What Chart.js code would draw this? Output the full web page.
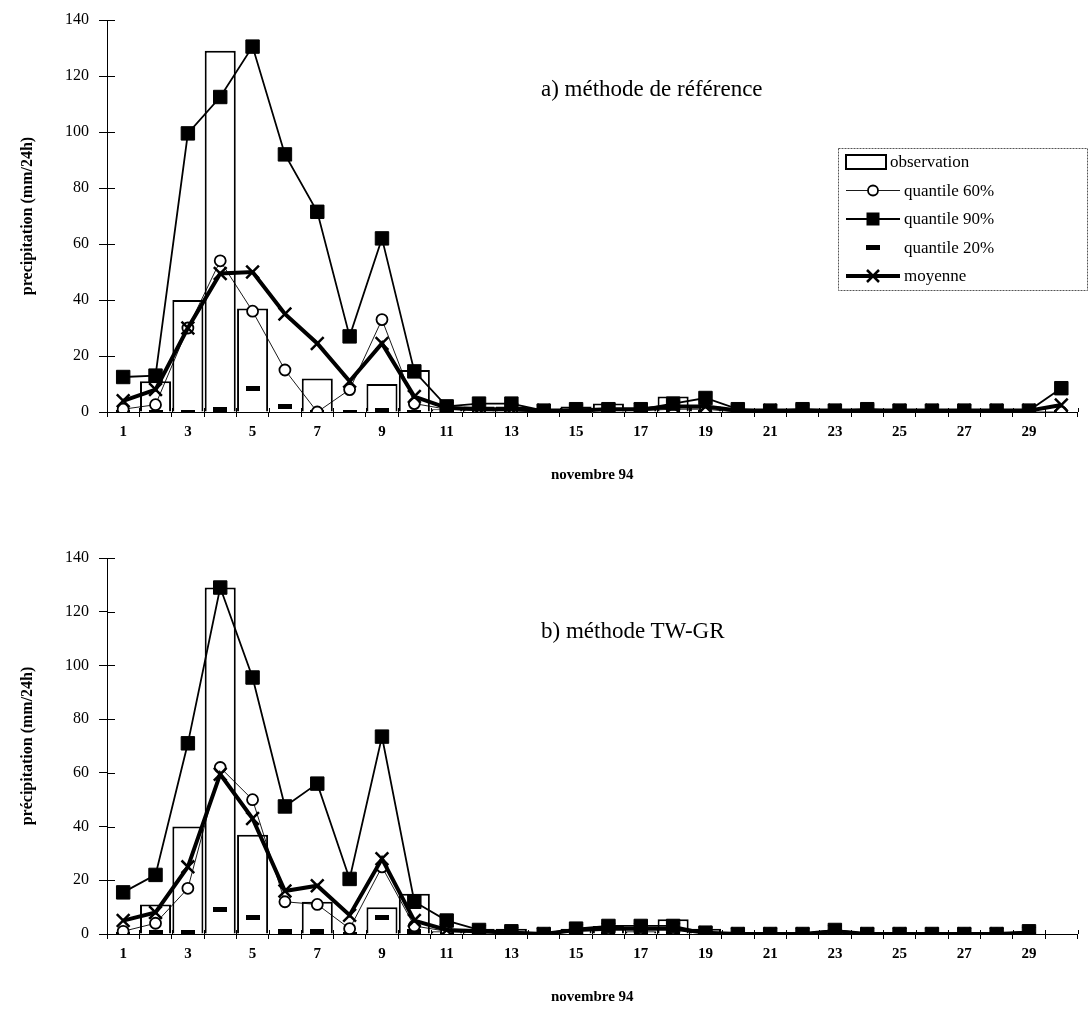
<!DOCTYPE html>
<html><head><meta charset="utf-8">
<script src="https://cdn.jsdelivr.net/npm/chart.js@4.4.1/dist/chart.umd.min.js"></script>
<style>
html,body{margin:0;padding:0;background:#fff;}
#wrap{position:relative;width:1089px;height:1018px;overflow:hidden;background:#fff;}
canvas{position:absolute;left:0;}
.sub{position:absolute;font-family:'Liberation Serif','Times New Roman',serif;font-size:23px;color:#000;white-space:nowrap;}
</style></head><body>
<div id="wrap">
<canvas id="c1" width="1089" height="490" style="top:0px"></canvas>
<canvas id="c2" width="1089" height="474" style="top:538px"></canvas>
<div class="sub" style="left:541px;top:76px">a) méthode de référence</div>
<div class="sub" style="left:541px;top:618px">b) méthode TW-GR</div>
</div>
<script>
const days = ['1','2','3','4','5','6','7','8','9','10','11','12','13','14','15','16','17','18','19','20','21','22','23','24','25','26','27','28','29','30'];
const yTicks = [0,20,40,60,80,100,120,140];

const observation = [0,11,40,129,37,0,12,0,10,15,1,2,2,0,2,3,1,5.5,2,0,0,0,0,0,0,0,0,0,0,0];

const q60A = [1,2.6,30,54,36,15,0,8,33,3,1,0.5,0.5,0,0.5,0.5,0.5,1,1,0,0,0,0,0,0,0,0,0,0,0];
const q90A = [12.5,13,99.5,112.5,130.5,92,71.5,27,62,14.5,2,3,3,0.5,1,1,1,3,5,1,0.5,1,0.5,1,0.5,0.5,0.5,0.5,0.5,8.5];
const q20A = [0,0,0,1,8.5,2,0,0,0.5,0,0,0,0,0,0,0,0,0,0,0,0,0,0,0,0,0,0,0,0,0];
const moyA = [4,8,30,49.5,50,35,24.5,11,24.5,5.5,1.5,1,1,0.5,0.5,1,1,2,2,0.5,0.5,0.5,0.5,0.5,0.5,0.5,0.5,0.5,0.5,2.5];

const q60B = [1,4,17,62,50,12,11,2,25,3,1,0.5,0.5,0,1.5,2,2,2,0.5,0,0,0,1,0,0,0,0,0,0.5,null];
const q90B = [15.5,22,71,129,95.5,47.5,56,20.5,73.5,12,5,1.5,1,0,2,3,3,3,0.5,0,0,0,1.5,0,0,0,0,0,1,null];
const q20B = [0,0.5,0.5,9,6,1,1,0,6,1,0,0,0,0,0,0,0,0,0,0,0,0,0,0,0,0,0,0,0,null];
const moyB = [5,8,25,59.5,43,16,18,7,28,5,1.5,1,0.5,0,1.5,2,2,2,0.5,0,0,0,1,0,0,0,0,0,0.5,null];

const SERIF = "'Liberation Serif','Times New Roman',serif";

const dash = document.createElement('canvas');
dash.width = 14; dash.height = 5;
(function(){const g = dash.getContext('2d'); g.fillStyle = '#000'; g.fillRect(0,0,14,5);})();

function datasets(obs, q60, q90, q20, moy){
  return [
    {type:'line', label:'moyenne', data:moy, borderColor:'#000', borderWidth:4, pointStyle:'crossRot', pointRadius:9, pointBorderWidth:2.5, pointBorderColor:'#000', pointBackgroundColor:'#000', tension:0, order:1},
    {type:'line', label:'quantile 90%', data:q90, borderColor:'#000', borderWidth:1.8, pointStyle:'rect', pointRadius:9.5, pointBackgroundColor:'#000', pointBorderColor:'#000', pointBorderWidth:1, tension:0, order:2},
    {type:'line', label:'quantile 60%', data:q60, borderColor:'#000', borderWidth:0.9, pointStyle:'circle', pointRadius:5.5, pointBackgroundColor:'#fff', pointBorderColor:'#000', pointBorderWidth:1.8, tension:0, order:3},
    {type:'line', label:'quantile 20%', data:q20, showLine:false, borderColor:'#000', pointStyle:dash, pointRadius:6, tension:0, order:4},
    {type:'bar', label:'observation', data:obs, backgroundColor:'#fff', borderColor:'#000', borderWidth:2, barPercentage:0.96, categoryPercentage:1, order:10}
  ];
}

const tickPlugin = {
  id:'innerTicks',
  afterDraw(chart){
    const ctx = chart.ctx, y = chart.scales.y, x = chart.scales.x;
    ctx.save();
    ctx.strokeStyle = '#000'; ctx.lineWidth = 1;
    y.ticks.forEach((t,i)=>{
      const py = Math.round(y.getPixelForTick(i)) + 0.5;
      ctx.beginPath(); ctx.moveTo(y.right, py); ctx.lineTo(y.right + 8, py); ctx.stroke();
    });
    const n = chart.data.labels.length, w = (x.right - x.left) / n;
    for (let k = 0; k <= n; k++){
      const px = Math.round(x.left + k * w) + 0.5;
      ctx.beginPath(); ctx.moveTo(px, x.top); ctx.lineTo(px, x.top - 4); ctx.stroke();
    }
    ctx.restore();
  }
};

const legendPlugin = {
  id:'boxLegend',
  afterDraw(chart, args, opts){
    if (!opts || !opts.show) return;
    const ctx = chart.ctx;
    const lx = opts.x, ly = opts.y, w = opts.w, h = opts.h, rh = opts.rowH;
    ctx.save();
    ctx.fillStyle = '#fff'; ctx.fillRect(lx, ly, w, h);
    ctx.strokeStyle = '#555'; ctx.lineWidth = 1; ctx.setLineDash([2,1]);
    ctx.strokeRect(lx + 0.5, ly + 0.5, w, h);
    ctx.setLineDash([]);
    const sx0 = lx + 8, sx1 = lx + 62, tx = lx + 66, cx = (sx0 + sx1) / 2;
    ctx.font = opts.font + 'px ' + SERIF; ctx.textBaseline = 'middle'; ctx.fillStyle = '#000';
    const order = ['observation','quantile 60%','quantile 90%','quantile 20%','moyenne'];
    order.forEach((name, i) => {
      const cy = ly + opts.first + i * rh;
      ctx.strokeStyle = '#000'; ctx.fillStyle = '#000';
      let t = tx;
      if (name === 'observation') {
        ctx.lineWidth = 2; ctx.strokeRect(sx0, cy - 7, 40, 14); t = sx0 + 44;
      } else if (name === 'quantile 60%') {
        ctx.lineWidth = 0.9; ctx.beginPath(); ctx.moveTo(sx0, cy); ctx.lineTo(sx1, cy); ctx.stroke();
        ctx.fillStyle = '#fff'; ctx.lineWidth = 1.8; ctx.beginPath(); ctx.arc(cx, cy, 5, 0, Math.PI*2); ctx.fill(); ctx.stroke();
      } else if (name === 'quantile 90%') {
        ctx.lineWidth = 1.8; ctx.beginPath(); ctx.moveTo(sx0, cy); ctx.lineTo(sx1, cy); ctx.stroke();
        ctx.fillRect(cx - 6.5, cy - 6.5, 13, 13);
      } else if (name === 'quantile 20%') {
        ctx.drawImage(dash, cx - 7, cy - 2.5);
      } else {
        ctx.lineWidth = 4; ctx.beginPath(); ctx.moveTo(sx0, cy); ctx.lineTo(sx1, cy); ctx.stroke();
        ctx.lineWidth = 2.5; ctx.beginPath();
        ctx.moveTo(cx - 6, cy - 6); ctx.lineTo(cx + 6, cy + 6); ctx.moveTo(cx + 6, cy - 6); ctx.lineTo(cx - 6, cy + 6); ctx.stroke();
      }
      ctx.fillStyle = '#000';
      ctx.fillText(name, t, cy + 1);
    });
    ctx.restore();
  }
};

function makeChart(id, ds, yTitle, legendOpts, axisH){
  return new Chart(document.getElementById(id), {
    data:{labels:days, datasets:ds},
    plugins:[tickPlugin, legendPlugin],
    options:{
      responsive:false, animation:false, events:[],
      layout:{padding:{top:20,right:1,left:0,bottom:0}},
      plugins:{legend:{display:false}, tooltip:{enabled:false}, boxLegend:legendOpts},
      scales:{
        x:{
          type:'category', offset:true,
          grid:{drawOnChartArea:false, drawTicks:true, tickLength:5, offset:true, color:'#000'},
          border:{display:true, color:'#000', width:1},
          ticks:{autoSkip:false, maxRotation:0, color:'#000', padding:6,
                 font:{family:SERIF, size:15, weight:'bold'},
                 callback:function(v,i){ return i % 2 === 0 ? days[i] : ''; }},
          title:{display:true, text:'novembre 94', color:'#000', font:{family:SERIF, size:15, weight:'bold'}, padding:{top:0,bottom:6}},
          afterFit:function(s){ s.height = axisH; }
        },
        y:{
          min:0, max:140,
          afterBuildTicks:function(s){ s.ticks = yTicks.map(v => ({value:v})); },
          grid:{drawOnChartArea:false, drawTicks:true, tickLength:8, color:'#000'},
          border:{display:true, color:'#000', width:1},
          ticks:{color:'#000', padding:10, font:{family:SERIF, size:16}},
          title:{display:true, text:yTitle, color:'#000', font:{family:SERIF, size:16, weight:'bold'}, padding:{top:18,bottom:0}},
          afterFit:function(s){ s.width = 107; }
        }
      }
    }
  });
}

makeChart('c1', datasets(observation, q60A, q90A, q20A, moyA), 'precipitation (mm/24h)',
  {show:true, x:838, y:148, w:249, h:142, rowH:28.5, first:14, font:17}, 78);
makeChart('c2', datasets(observation, q60B, q90B, q20B, moyB), 'précipitation (mm/24h)',
  {show:false}, 78);
</script>
</body></html>
